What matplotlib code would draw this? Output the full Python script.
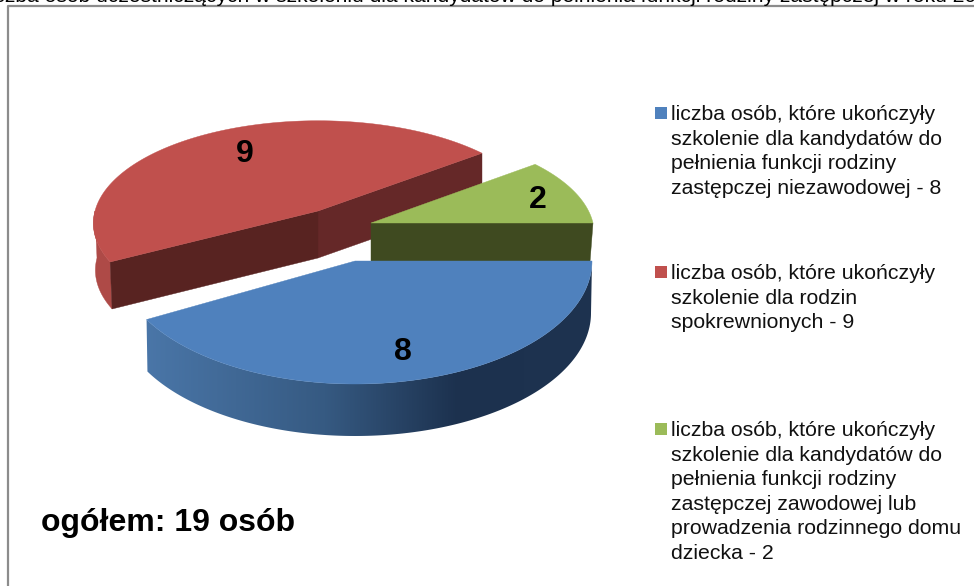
#!/usr/bin/env python3
# -*- coding: utf-8 -*-
import numpy as np
import matplotlib
matplotlib.use('Agg')
import matplotlib.pyplot as plt
from matplotlib.patches import Polygon

plt.rcParams['font.family'] = ['Liberation Sans', 'DejaVu Sans']

# Data
values = [8, 9, 2]
legend_labels = [
    'liczba osób, które ukończyły\nszkolenie dla kandydatów do\npełnienia funkcji rodziny\nzastępczej niezawodowej - 8',
    'liczba osób, które ukończyły\nszkolenie dla rodzin\nspokrewnionych - 9',
    'liczba osób, które ukończyły\nszkolenie dla kandydatów do\npełnienia funkcji rodziny\nzastępczej zawodowej lub\nprowadzenia rodzinnego domu\ndziecka - 2',
]
total_label = 'ogółem: 19 osób'
clipped_title = 'Liczba osób uczestniczących w szkoleniu dla kandydatów do pełnienia funkcji rodziny zastępczej w roku 2013'

colors = ['#4F81BD', '#C0504D', '#9BBB59']

# Slice angles come from the values, going clockwise from 3 o'clock
sweeps = [v / sum(values) * 360 for v in values]
blue_end = -sweeps[0]
red_start = 360 + blue_end
red_end = red_start - sweeps[1]


def arc(cx, cy, a, b, k, start, end, n=200):
    t = np.radians(np.linspace(start, end, n))
    w = 1 + k * np.sin(t)
    return np.column_stack([cx + a * np.cos(t) / w, cy - b * np.sin(t) / w])


def poly(ax, pts, color, z):
    p = Polygon(pts, closed=True, facecolor=color, edgecolor=color, lw=0.3, zorder=z)
    ax.add_patch(p)
    return p


fig = plt.figure(figsize=(9.74, 5.86), dpi=100)
ax = fig.add_axes([0, 0, 1, 1])
ax.axis('off')

# Frame
ax.plot([8, 8, 974], [586, 6, 6], color='#8C8C8C', lw=1.6, zorder=1)
ax.text(-22, 2, clipped_title, fontsize=15.1, ha='left', va='baseline', zorder=1)

# Red slice, exploded to the back left
r = (318, 211, 223, 101, 0.119)
red_depth = 47
apex = np.array([318, 211])
red_top = arc(*r, red_start, red_end)
left_end = red_top[0]
right_end = red_top[-1]
red_front = arc(*r, 180, red_start)
poly(ax, np.vstack([red_front, red_front[::-1] + [2, red_depth]]), '#AE4A47', 2)
poly(ax, [apex, right_end, right_end + [0, red_depth], apex + [0, red_depth]], '#652828', 3)
poly(ax, [apex, left_end, left_end + [2, red_depth], apex + [0, red_depth]], '#582321', 4)
poly(ax, np.vstack([[apex], red_top]), colors[1], 5)

# Green slice (back right) sits over the red inner wall
g = (371, 223, 222, 102, 0.11)
green_top = arc(*g, 0, sweeps[2])
poly(ax, [(371, 223), (593, 223), (590, 262), (371, 262)], '#3F4A20', 6)
poly(ax, np.vstack([[(371, 223)], green_top]), colors[2], 7)

# Blue slice (front)
b_top = arc(355, 261, 237, 123, 0, 0, blue_end)
b_low = arc(355, 313, 236, 123, 0, 0, blue_end)
wall = poly(ax, np.vstack([b_top, b_low[::-1]]), 'none', 8)
wall.set_edgecolor('none')
stops = np.array([[0x4A, 0x76, 0xA8], [0x36, 0x5A, 0x82], [0x1C, 0x31, 0x4E], [0x1E, 0x33, 0x50]]) / 255
xs = np.linspace(0, 1, 256)
grad = np.column_stack([np.interp(xs, [0, 0.4, 0.7, 1], stops[:, i]) for i in range(3)])
im = ax.imshow(grad[np.newaxis, :, :], extent=[146, 592, 440, 261], aspect='auto', zorder=8)
im.set_clip_path(wall)
poly(ax, np.vstack([[(355, 261)], b_top]), colors[0], 9)

# Value labels
ax.text(245, 154, str(values[1]), fontsize=23, fontweight='bold', ha='center', va='center', zorder=10)
ax.text(403, 352, str(values[0]), fontsize=23, fontweight='bold', ha='center', va='center', zorder=10)
ax.text(538, 200, str(values[2]), fontsize=23, fontweight='bold', ha='center', va='center', zorder=10)

# Legend
for label, color, y in zip(legend_labels, colors, [113, 272, 429]):
    ax.scatter([660.5], [y], marker='s', s=75, color=color, linewidths=0, zorder=3)
    ax.text(671, y - 8, label, fontsize=15.3, va='top', ha='left', linespacing=1.37, color='#111111')

ax.text(41, 523, total_label, fontsize=23, fontweight='bold', ha='left', va='center')

ax.set_xlim(0, 974)
ax.set_ylim(586, 0)
fig.savefig('out.png', dpi=100)
